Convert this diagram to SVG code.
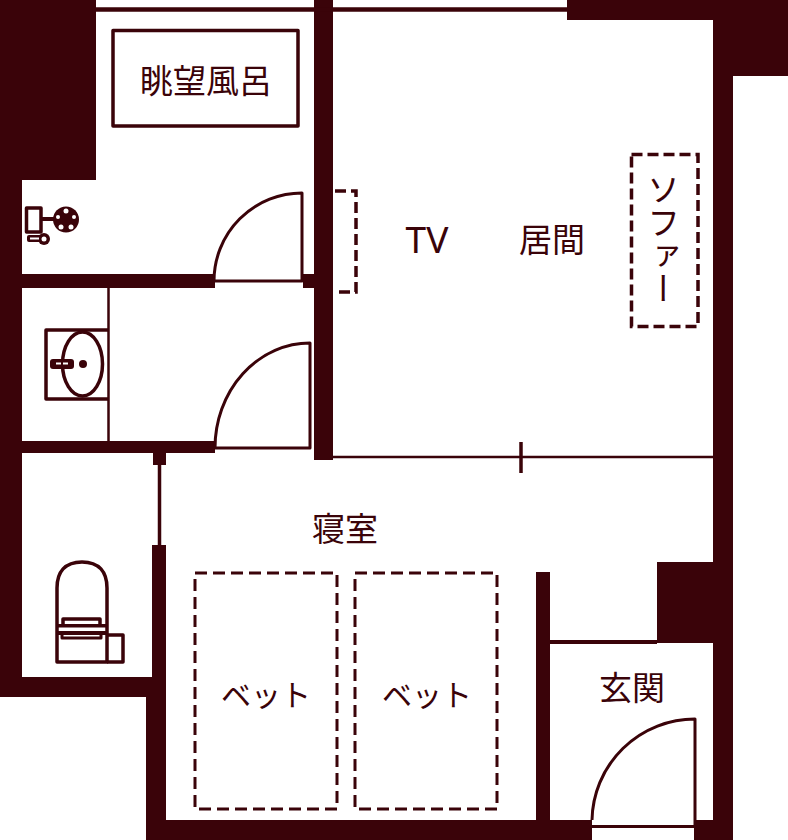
<svg xmlns="http://www.w3.org/2000/svg" width="788" height="840" viewBox="0 0 788 840">
<style>
.w{fill:#3a0309}
.l{fill:none;stroke:#3a0309;stroke-width:3.5;stroke-linejoin:round}
.e{fill:none;stroke:#3a0309;stroke-width:3;stroke-linejoin:round}
.d{fill:none;stroke:#3a0309;stroke-width:3;stroke-dasharray:12 6}
.t{fill:#3a0309;font-family:"Noto Sans CJK JP","Noto Sans",sans-serif;font-size:33px;font-weight:400;text-anchor:middle}
</style>
<rect width="788" height="840" fill="#fff"/>
<g id="walls">
<path class="w" d="M0 0H96V180H22V677H152V545H166V820H536V572H550V820H592V840H146V697H0Z"/>
<path class="w" d="M567 0H788V76H733V840H694V820H713V643H657V562H713V20H567Z"/>
<rect class="w" x="314" y="0" width="19" height="460"/>
<rect class="w" x="22" y="274" width="193" height="14"/>
<rect class="w" x="303" y="274" width="11" height="14"/>
<rect class="w" x="22" y="441" width="193" height="12"/>
<rect class="w" x="153" y="453" width="13" height="12"/>
</g>
<g id="connectors">
<path class="l" style="stroke-width:4.5" d="M96 9.500H567"/>
<path class="l" style="stroke-width:2.500" d="M333 457H713"/>
<path class="l" d="M521 442V473"/>
<path class="l" d="M159.500 465V545"/>
<path class="e" d="M215 281H302V193A88 88 0 0 0 214 281"/>
<path class="e" d="M215 448H310V343A95 105 0 0 0 215 448"/>
<path class="e" d="M592 826.500H695V719A103 103 0 0 0 592 820"/>
<path class="l" style="stroke-width:4" d="M550 642H657"/>
<path class="l" style="stroke-width:2.500" d="M108.500 288V441"/>
</g>
<g id="bath"><rect class="l" x="113" y="30.500" width="185" height="95.500"/><text class="t" x="206" y="93">眺望風呂</text></g>
<g id="shower">
<path class="l" d="M26.500 208H41V232H26.500Z"/><rect class="w" x="41" y="217" width="14" height="4"/>
<circle class="w" cx="66" cy="219.500" r="13"/>
<g fill="#fff"><circle cx="66" cy="211" r="2.500"/><circle cx="58" cy="217" r="2"/><circle cx="74" cy="217" r="2"/><circle cx="61" cy="227" r="2.500"/><circle cx="71" cy="227" r="2.500"/></g>
<rect class="w" x="27" y="235" width="15" height="7" rx="2"/><circle class="w" cx="44" cy="239" r="6"/><circle cx="44" cy="239" r="2.500" fill="#fff"/>
<rect x="30" y="237.500" width="9" height="2" fill="#fff"/>
</g>
<g id="sink">
<path class="l" d="M108 330H46V399H108"/>
<ellipse class="l" cx="82.500" cy="364" rx="20" ry="32"/>
<rect class="w" x="50" y="359" width="24" height="10" rx="3"/>
<rect x="56" y="362.500" width="5" height="2" fill="#fff"/><rect x="63" y="362.500" width="5" height="2" fill="#fff"/>
<circle class="w" cx="83" cy="364" r="4"/>
</g>
<g id="toilet">
<path class="l" d="M57 662V588C57 572 65 562 82 562C99 562 107 572 107 588V662Z"/>
<path class="l" d="M107 635H123V662H107"/>
<path class="l" d="M63 625V619H100V625"/>
<rect class="w" x="58" y="624" width="49" height="3.500"/>
<rect class="w" x="58" y="631" width="49" height="4"/>
<path class="l" style="stroke-width:3" d="M62 635V638H101V635"/>
</g>
<g id="tv"><path class="d" style="stroke-width:3.500;stroke-dasharray:11 5" d="M335 191H356V292H335"/><text class="t" x="427" y="253" style="font-family:'Noto Sans',sans-serif;font-size:37px">TV</text></g>
<g id="living"><text class="t" x="552" y="252">居間</text></g>
<g id="sofa"><rect class="d" style="stroke-width:3.500;stroke-dasharray:11 5" x="631.500" y="154.500" width="66.500" height="172"/><text class="t" x="663.500" y="173" style="writing-mode:vertical-rl;text-anchor:start">ソファー</text></g>
<g id="bedroom"><text class="t" x="345" y="541">寝室</text></g>
<g id="bed1"><rect class="d" x="195" y="573" width="142" height="236"/><text class="t" x="266" y="706" style="font-size:30px">ベット</text></g>
<g id="bed2"><rect class="d" x="355" y="573" width="142" height="236"/><text class="t" x="427" y="706" style="font-size:30px">ベット</text></g>
<g id="entrance"><text class="t" x="632" y="700">玄関</text></g>
</svg>
